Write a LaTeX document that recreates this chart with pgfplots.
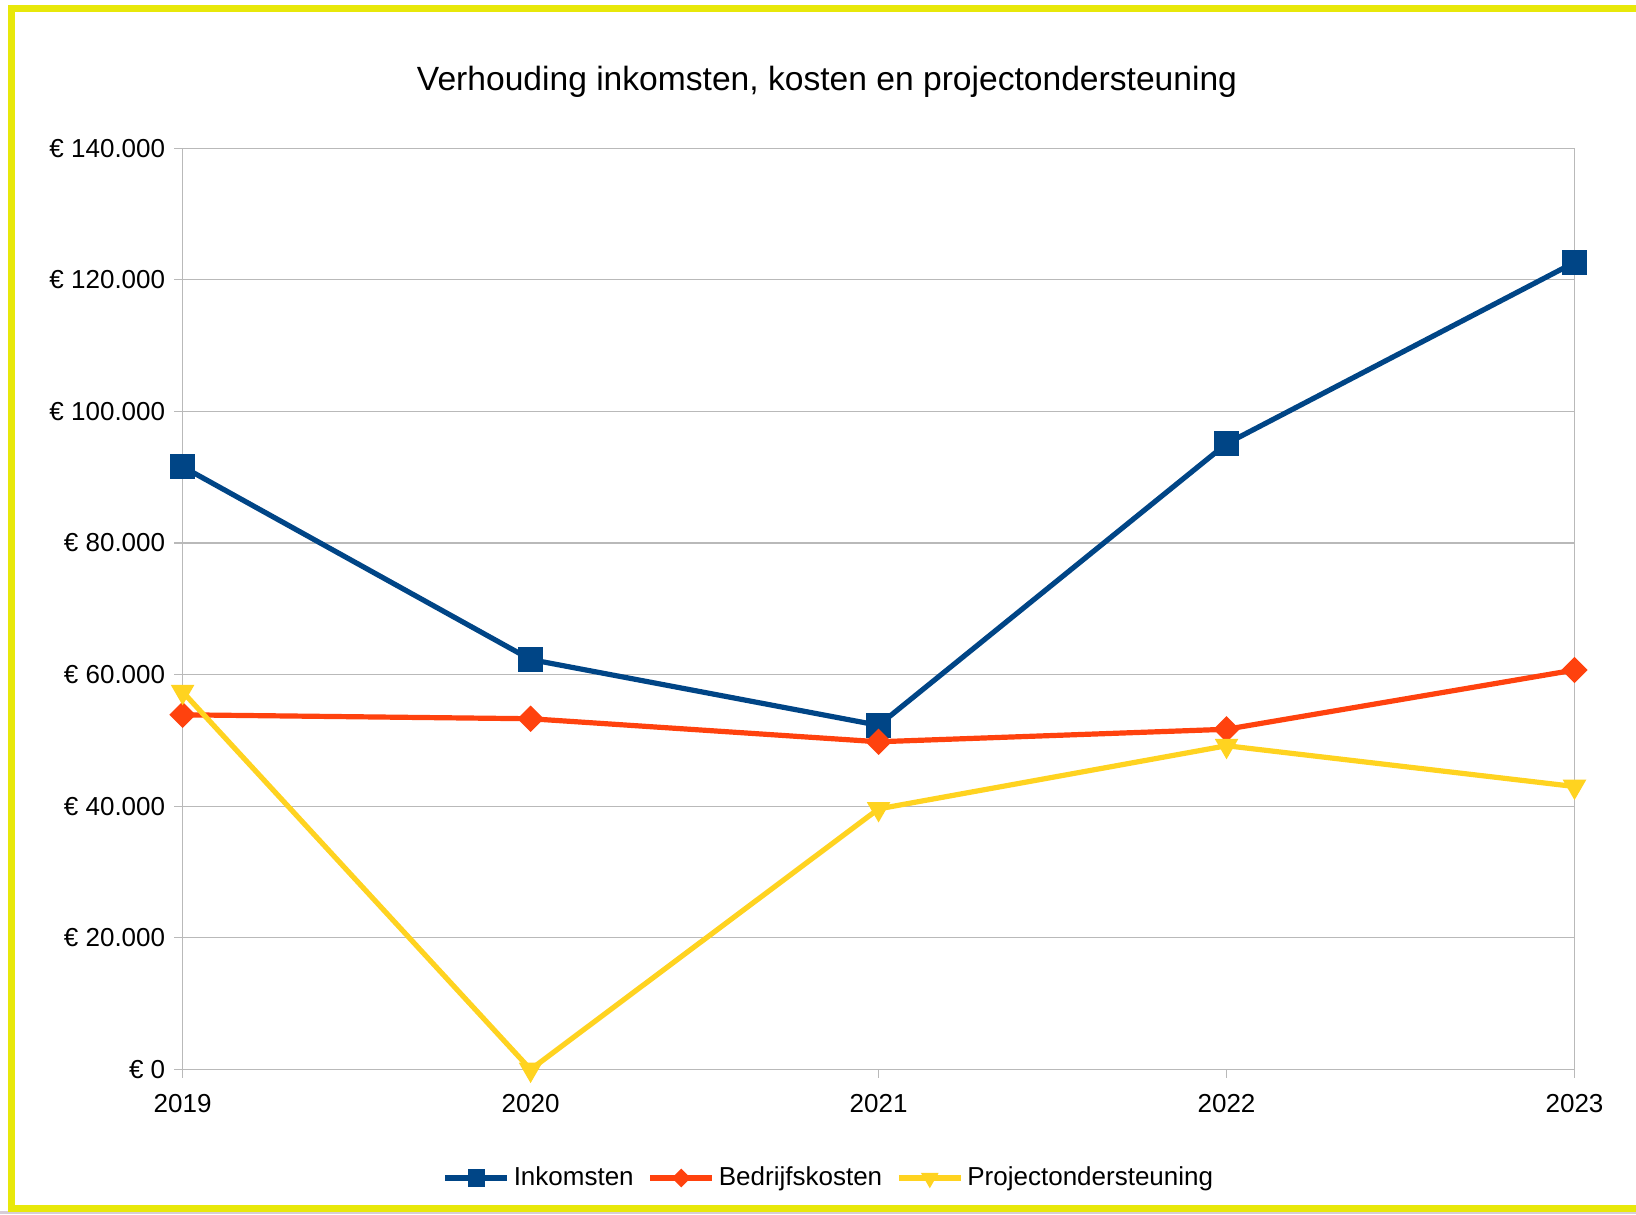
\documentclass[border=0pt]{standalone}
\usepackage{fontspec}
\setmainfont{Liberation Sans}
\usepackage{pgfplots}
\pgfplotsset{compat=1.18}
\definecolor{inkc}{HTML}{004586}
\definecolor{bedc}{HTML}{FF420E}
\definecolor{proc}{HTML}{FFD320}
\definecolor{bordery}{RGB}{232,232,10}
\definecolor{gridc}{RGB}{185,185,185}
\definecolor{shadowc}{RGB}{215,205,215}
\begin{document}
\begin{tikzpicture}[x=0.5pt,y=0.5pt]
\path[use as bounding box] (0,0) rectangle (1636,1214);
\fill[white] (0,0) rectangle (1636,1214);
\fill[shadowc] (0,0) rectangle (1636,3);
\draw[bordery,line width=3.5pt] (11,5.5) rectangle (1650,1205);
\node[font=\fontsize{16.8}{20}\selectfont,anchor=center] at (827,1132) {Verhouding inkomsten, kosten en projectondersteuning};
\begin{axis}[
  at={(91.3pt,72.25pt)}, anchor=south west,
  scale only axis, width=695.95pt, height=460.65pt,
  xmin=2019, xmax=2023, ymin=0, ymax=140000,
  clip=false, scaled y ticks=false,
  xtick={2019,2020,2021,2022,2023},
  xticklabels={2019,2020,2021,2022,2023},
  ytick={0,20000,40000,60000,80000,100000,120000,140000},
  yticklabels={€ 0,€ 20.000,€ 40.000,€ 60.000,€ 80.000,€ 100.000,€ 120.000,€ 140.000},
  tick align=outside, xtick pos=bottom, ytick pos=left,
  major tick length=4.2pt,
  tick style={draw=gridc, line width=0.6pt},
  axis line style={draw=gridc, line width=0.6pt},
  ymajorgrids, grid style={draw=gridc, line width=0.6pt},
  ticklabel style={font=\fontsize{13}{15}\selectfont},
  yticklabel style={xshift=-1pt},
  xticklabel style={yshift=-4.6pt},
  legend style={at={(0.4650,-0.1178)}, anchor=center, draw=none, fill=none,
    legend columns=3, font=\fontsize{13}{15}\selectfont,
    /tikz/every even column/.append style={column sep=5pt}},
  legend image code/.code={\draw[mark repeat=2,mark phase=2,every mark/.append style={scale=0.6}] plot coordinates {(0pt,0pt)(15.5pt,0pt)(31pt,0pt)};},
]
\addplot[inkc, line width=2.6pt, mark=square*, mark size=5pt, mark options={solid}]
  coordinates {(2019,91600) (2020,62300) (2021,52300) (2022,95100) (2023,122640)};
\addlegendentry{Inkomsten}
\addplot[bedc, line width=2.6pt, mark=square*, mark size=3.36pt, mark options={solid, rotate=45}]
  coordinates {(2019,53900) (2020,53300) (2021,49800) (2022,51700) (2023,60700)};
\addlegendentry{Bedrijfskosten}
\addplot[proc, line width=2.6pt, mark=triangle*, mark size=4.2pt, mark options={solid, rotate=180}]
  coordinates {(2019,57400) (2020,0) (2021,39600) (2022,49200) (2023,43000)};
\addlegendentry{Projectondersteuning}
\end{axis}
\end{tikzpicture}
\end{document}
